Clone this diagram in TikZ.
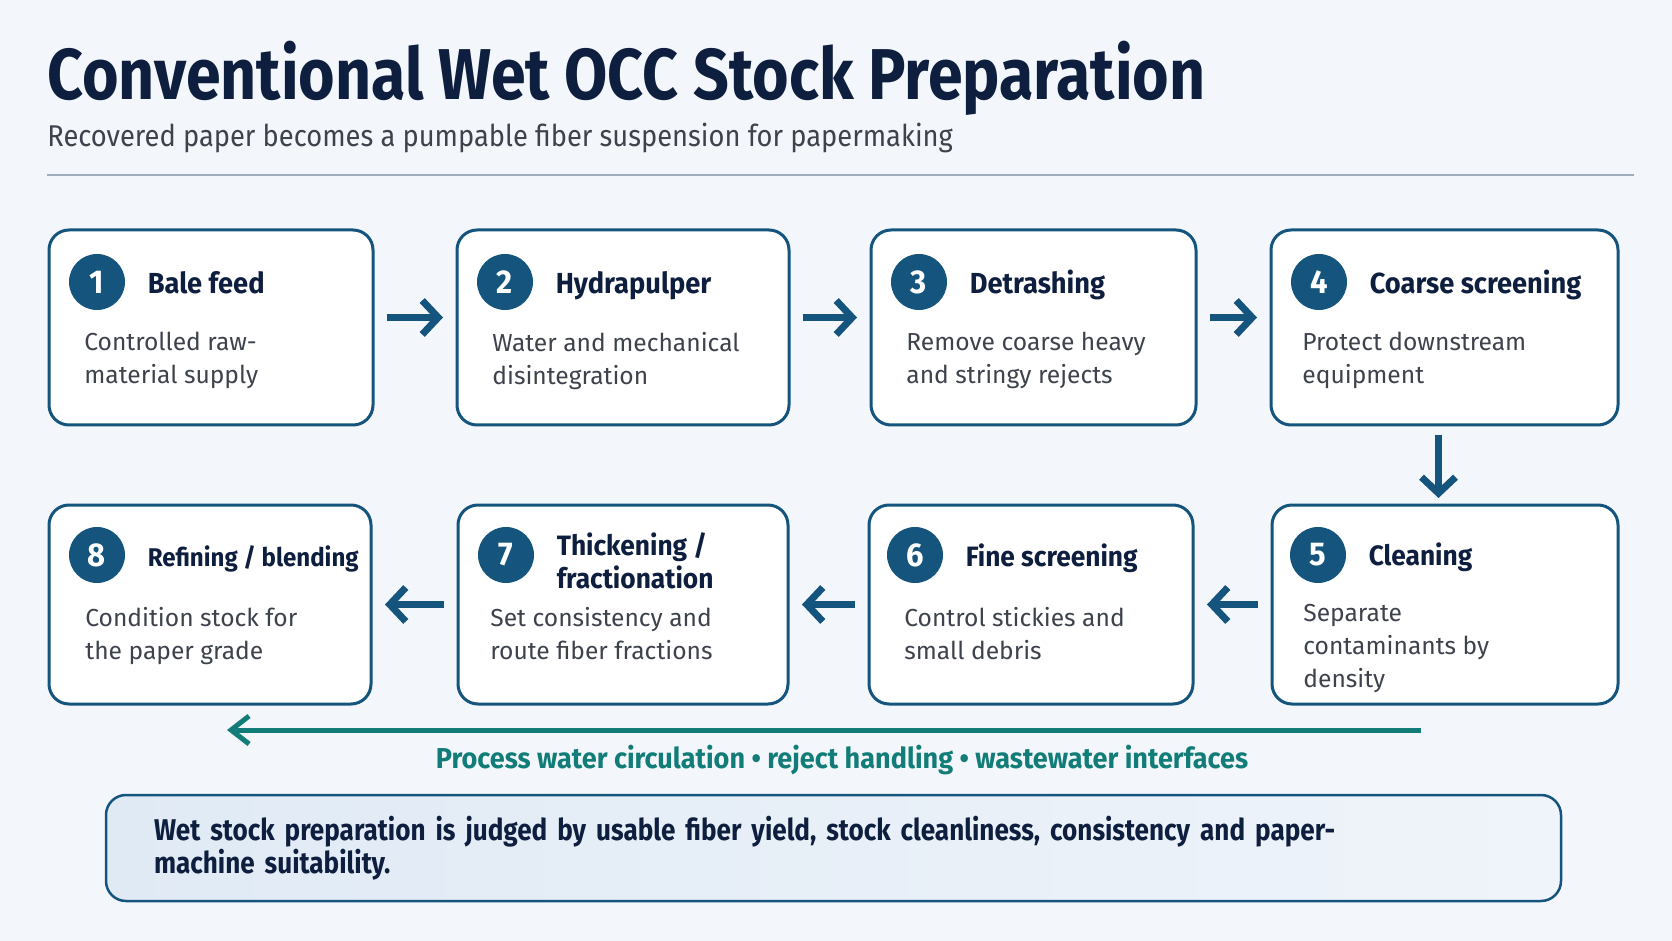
\documentclass[tikz,border=0pt]{standalone}
\usepackage{fontspec}
\setmainfont{Fira Sans}
\newfontfamily\titlefont[FakeStretch=0.87]{Fira Sans}
\newfontfamily\subfont[FakeStretch=0.91]{Fira Sans}
\newfontfamily\headfont[FakeStretch=0.94]{Fira Sans}
\newfontfamily\notefont[FakeStretch=0.87]{Fira Sans}
\usetikzlibrary{positioning,calc,arrows.meta}
\definecolor{occbg}{RGB}{243,247,251}
\definecolor{occnavy}{RGB}{14,30,62}
\definecolor{occblue}{RGB}{21,85,125}
\definecolor{occgray}{RGB}{62,66,76}
\definecolor{occteal}{RGB}{18,125,120}
\definecolor{occrule}{RGB}{160,172,186}
\definecolor{occnoteL}{RGB}{224,234,245}
\definecolor{occnoteR}{RGB}{239,244,250}

\begin{document}
\begin{tikzpicture}[x=0.5pt,y=0.5pt,
    stepbox/.style={draw=occblue, line width=1.5pt, rounded corners=10pt, fill=white, inner sep=0pt, outer sep=0pt},
    numdot/.style={circle, fill=occblue, text=white, minimum size=28pt, inner sep=0pt, font=\headfont\bfseries\fontsize{16.5}{16.5}\selectfont},
    steptitle/.style={text=occnavy, inner sep=0pt, align=left, font=\headfont\bfseries\fontsize{14.5}{16.5}\selectfont},
    lowtitle/.style={steptitle, font=\headfont\bfseries\fontsize{14}{16.5}\selectfont},
    stepdesc/.style={text=occgray, inner sep=0pt, align=left, anchor=north west, font=\fontsize{12.3}{16.5}\selectfont},
    flow/.style={draw=occblue, line width=3.5pt, -{Straight Barb[length=8pt,width=17pt]}, shorten <=7pt, shorten >=7pt},
    water/.style={draw=occteal, line width=2.5pt, -{Straight Barb[length=9pt,width=14pt]}},
    notebox/.style={draw=occblue, line width=1.25pt, rounded corners=10pt, left color=occnoteL, right color=occnoteR, text=occnavy, align=left, inner xsep=24pt, font=\notefont\bfseries\fontsize{15}{16.5}\selectfont},
]
\useasboundingbox (0,0) rectangle (1672,-941);
\fill[occbg] (0,0) rectangle (1672,-941);

% heading
\node[anchor=base west, inner sep=0pt, text=occnavy, font=\titlefont\bfseries\fontsize{36}{40}\selectfont] (title) at (47,-100) {Conventional Wet OCC Stock Preparation};
\node[anchor=base west, inner sep=0pt, text=occgray, font=\subfont\fontsize{15}{18}\selectfont] (subtitle) at (47,-147) {Recovered paper becomes a pumpable fiber suspension for papermaking};
\draw[occrule, line width=1.25pt] (47,-175) -- (1634,-175);

% top row
\node[stepbox, minimum width=162pt, minimum height=97.5pt] (b1) at (211,-327.5) {};
\node[stepbox, minimum width=166pt, minimum height=97.5pt] (b2) at (623,-327.5) {};
\node[stepbox, minimum width=162.5pt, minimum height=97.5pt] (b3) at (1033.5,-327.5) {};
\node[stepbox, minimum width=173.5pt, minimum height=97.5pt] (b4) at (1444.5,-327.5) {};

\node[numdot] (c1) at ([shift={(48,-52)}]b1.north west) {1};
\node[numdot] (c2) at ([shift={(48,-52)}]b2.north west) {2};
\node[numdot] (c3) at ([shift={(48,-52)}]b3.north west) {3};
\node[numdot] (c4) at ([shift={(48,-52)}]b4.north west) {4};
\node[steptitle, base right=11pt of c1] (t1) {Bale feed};
\node[steptitle, base right=11pt of c2] (t2) {Hydrapulper};
\node[steptitle, base right=11pt of c3] (t3) {Detrashing};
\node[steptitle, base right=11pt of c4] (t4) {Coarse screening};
\node[stepdesc] (d1) at ([shift={(35,-102)}]b1.north west) {Controlled raw-\\material supply};
\node[stepdesc] (d2) at ([shift={(35,-102)}]b2.north west) {Water and mechanical\\disintegration};
\node[stepdesc] (d3) at ([shift={(35,-102)}]b3.north west) {Remove coarse heavy\\and stringy rejects};
\node[stepdesc] (d4) at ([shift={(31,-102)}]b4.north west) {Protect downstream\\equipment};

% bottom row
\node[stepbox, minimum width=173pt, minimum height=99.5pt] (b5) at (1445,-604.5) {};
\node[stepbox, minimum width=162pt, minimum height=99.5pt] (b6) at (1031,-604.5) {};
\node[stepbox, minimum width=165pt, minimum height=99.5pt] (b7) at (623,-604.5) {};
\node[stepbox, minimum width=161pt, minimum height=99.5pt] (b8) at (210,-604.5) {};

\node[numdot] (c5) at ([shift={(46,-50)}]b5.north west) {5};
\node[numdot] (c6) at ([shift={(46,-50)}]b6.north west) {6};
\node[numdot] (c7) at ([shift={(48,-50)}]b7.north west) {7};
\node[numdot] (c8) at ([shift={(48,-50)}]b8.north west) {8};
\node[lowtitle, base right=11pt of c5] (t5) {Cleaning};
\node[lowtitle, base right=11pt of c6] (t6) {Fine screening};
\node[lowtitle, right=11pt of c7, yshift=-3pt] (t7) {Thickening /\\fractionation};
\node[lowtitle, base right=11pt of c8, font=\headfont\bfseries\fontsize{12.8}{16}\selectfont] (t8) {Refining / blending};
\node[stepdesc] (d5) at ([shift={(31,-99)}]b5.north west) {Separate\\contaminants by\\density};
\node[stepdesc] (d6) at ([shift={(35,-102)}]b6.north west) {Control stickies and\\small debris};
\node[stepdesc] (d7) at ([shift={(32,-102)}]b7.north west) {Set consistency and\\route fiber fractions};
\node[stepdesc] (d8) at ([shift={(36,-102)}]b8.north west) {Condition stock for\\the paper grade};

% flow arrows
\draw[flow] ([yshift=5pt]b1.east) -- ([yshift=5pt]b2.west);
\draw[flow] ([yshift=5pt]b2.east) -- ([yshift=5pt]b3.west);
\draw[flow] ([yshift=5pt]b3.east) -- ([yshift=5pt]b4.west);
\draw[flow, shorten <=5pt, shorten >=3.5pt] ([xshift=-3pt]b4.south) -- ([xshift=-3pt]b4.south |- b5.north);
\draw[flow] (b5.west) -- (b6.east);
\draw[flow] (b6.west) -- (b7.east);
\draw[flow] (b7.west) -- (b8.east);

% water loop
\coordinate (wstart) at (1421,-730);
\coordinate (wend) at (227,-730);
\draw[water] (wstart) -- (wend);
\node[text=occteal, inner sep=0pt, font=\headfont\bfseries\fontsize{14.4}{16}\selectfont] (wlabel) at (842,-760) {Process water circulation • reject handling • wastewater interfaces};

% summary
\node[notebox, minimum width=727.5pt, minimum height=53pt, text width=679.5pt] (note) at (833.5,-848) {Wet stock preparation is judged by usable fiber yield, stock cleanliness, consistency and paper-\\machine suitability.};
\end{tikzpicture}
\end{document}
